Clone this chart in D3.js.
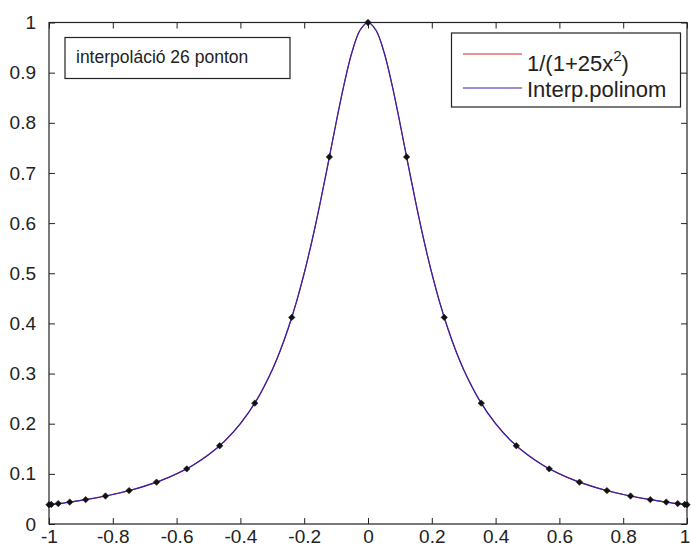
<!DOCTYPE html>
<html>
<head>
<meta charset="utf-8">
<script src="https://cdnjs.cloudflare.com/ajax/libs/d3/7.8.5/d3.min.js"></script>
<style>
  body { margin: 0; background: #fff; }
  svg { display: block; }
</style>
</head>
<body>
<div id="chart"></div>
<script>
// values
let curveX = [-1, -0.95, -0.9, -0.85, -0.8, -0.75, -0.7, -0.65, -0.6, -0.55, -0.5, -0.45, -0.4, -0.35,
  -0.3, -0.275, -0.25, -0.225, -0.2, -0.175, -0.15, -0.125, -0.1, -0.075, -0.05, -0.025, 0,
  0.025, 0.05, 0.075, 0.1, 0.125, 0.15, 0.175, 0.2, 0.225, 0.25, 0.275, 0.3,
  0.35, 0.4, 0.45, 0.5, 0.55, 0.6, 0.65, 0.7, 0.75, 0.8, 0.85, 0.9, 0.95, 1];
let exactY = [0.0385, 0.0424, 0.0471, 0.0525, 0.0588, 0.0664, 0.0755, 0.0865, 0.1, 0.1168, 0.1379, 0.1649, 0.2, 0.2462,
  0.3077, 0.3459, 0.3902, 0.4414, 0.5, 0.5664, 0.64, 0.7191, 0.8, 0.8767, 0.9412, 0.9846, 1,
  0.9846, 0.9412, 0.8767, 0.8, 0.7191, 0.64, 0.5664, 0.5, 0.4414, 0.3902, 0.3459, 0.3077,
  0.2462, 0.2, 0.1649, 0.1379, 0.1168, 0.1, 0.0865, 0.0755, 0.0664, 0.0588, 0.0525, 0.0471, 0.0424, 0.0385];
let interpY = [0.0385, 0.0423, 0.0472, 0.0524, 0.0589, 0.0663, 0.0756, 0.0864, 0.1001, 0.1167, 0.138, 0.1648, 0.2001, 0.2461,
  0.3078, 0.3458, 0.3903, 0.4413, 0.5001, 0.5663, 0.6401, 0.719, 0.8001, 0.8766, 0.9413, 0.9845, 1,
  0.9845, 0.9413, 0.8766, 0.8001, 0.719, 0.6401, 0.5663, 0.5001, 0.4413, 0.3903, 0.3458, 0.3078,
  0.2461, 0.2001, 0.1648, 0.138, 0.1167, 0.1001, 0.0864, 0.0756, 0.0663, 0.0589, 0.0524, 0.0472, 0.0423, 0.0385];
let nodeX = [-1, -0.993, -0.971, -0.935, -0.885, -0.823, -0.749, -0.663, -0.568, -0.465, -0.355, -0.239, -0.121, 0,
  0.121, 0.239, 0.355, 0.465, 0.568, 0.663, 0.749, 0.823, 0.885, 0.935, 0.971, 0.993, 1];
let nodeY = [0.0385, 0.039, 0.0407, 0.0437, 0.0486, 0.0558, 0.0666, 0.0834, 0.110, 0.156, 0.241, 0.412, 0.732, 1,
  0.732, 0.412, 0.241, 0.156, 0.110, 0.0834, 0.0666, 0.0558, 0.0486, 0.0437, 0.0407, 0.039, 0.0385];
let xTicks = [-1, -0.8, -0.6, -0.4, -0.2, 0, 0.2, 0.4, 0.6, 0.8, 1];
let yTicks = [0, 0.1, 0.2, 0.3, 0.4, 0.5, 0.6, 0.7, 0.8, 0.9, 1];
let legendNames = ["1/(1+25x", "Interp.polinom"];
let noteText = "interpoláció 26 ponton";

const width = 691, height = 548;
const m = {left: 49, right: 4, top: 22.5, bottom: 24};
const font = "'Liberation Sans', Arial, sans-serif";
const red = "#d42a2a", blue = "#2a24b4";

let svg = d3.select("#chart").append("svg")
  .attr("width", width).attr("height", height)
  .style("font-family", font);

let x = d3.scaleLinear().domain([-1, 1]).range([m.left, width - m.right]);
let y = d3.scaleLinear().domain([0, 1]).range([height - m.bottom, m.top]);

// ticks all round, pointing in; plain hyphen for minus like the original
let fmt = d => String(+d.toFixed(1));
svg.append("g").attr("transform", `translate(0,${y(0)})`)
  .call(d3.axisBottom(x).tickValues(xTicks).tickSize(-6).tickPadding(6).tickFormat(fmt))
  .call(g => g.select(".domain").remove())
  .call(g => g.selectAll("text").attr("font-size", 19).attr("font-family", font).attr("fill", "#222"))
  .call(g => g.selectAll(".tick").filter(d => d === 1).select("text").attr("dx", -2.5)); // keep the last "1" inside
svg.append("g").attr("transform", `translate(0,${y(1)})`)
  .call(d3.axisTop(x).tickValues(xTicks).tickSize(-6).tickFormat(""))
  .call(g => g.select(".domain").remove());
svg.append("g").attr("transform", `translate(${x(-1)},0)`)
  .call(d3.axisLeft(y).tickValues(yTicks).tickSize(-6).tickPadding(13).tickFormat(fmt))
  .call(g => g.select(".domain").remove())
  .call(g => g.selectAll("text").attr("font-size", 19).attr("font-family", font).attr("fill", "#222"));
svg.append("g").attr("transform", `translate(${x(1)},0)`)
  .call(d3.axisRight(y).tickValues(yTicks).tickSize(-6).tickFormat(""))
  .call(g => g.select(".domain").remove());
svg.selectAll(".tick line").attr("stroke", "#222");

svg.append("rect")
  .attr("x", x(-1)).attr("y", y(1))
  .attr("width", x(1) - x(-1)).attr("height", y(0) - y(1))
  .attr("fill", "none").attr("stroke", "#222").attr("stroke-width", 1.2);

let line = ys => d3.line().x((d, i) => x(curveX[i])).y(d => y(d)).curve(d3.curveCatmullRom)(ys);
svg.append("path").attr("d", line(exactY)).attr("fill", "none").attr("stroke", red).attr("stroke-width", 1.2);
svg.append("path").attr("d", line(interpY)).attr("fill", "none").attr("stroke", blue).attr("stroke-width", 1.2);

// node markers
svg.append("g").selectAll("path").data(nodeX).join("path")
  .attr("transform", (d, i) => `translate(${x(d)},${y(nodeY[i])})`)
  .attr("d", d3.symbol(d3.symbolDiamond2, 26)())
  .attr("fill", "#111").attr("stroke", "#111").attr("stroke-width", 0.6);

// text box
let note = svg.append("g");
note.append("rect").attr("x", 65).attr("y", 37.5).attr("width", 225).attr("height", 41)
  .attr("fill", "#fff").attr("stroke", "#222").attr("stroke-width", 1.2);
note.append("text").attr("x", 76).attr("y", 62.5)
  .attr("font-size", 17.5).attr("fill", "#222").text(noteText);

// legend
let leg = svg.append("g");
leg.append("rect").attr("x", 451.5).attr("y", 33).attr("width", 229).attr("height", 74)
  .attr("fill", "#fff").attr("stroke", "#222").attr("stroke-width", 1.2);
[red, blue].forEach((c, i) => {
  let yy = 54 + i * 34;
  leg.append("line").attr("x1", 463).attr("x2", 522).attr("y1", yy).attr("y2", yy)
    .attr("stroke", c).attr("stroke-width", 1.2);
});
let t1 = leg.append("text").attr("x", 527).attr("y", 71).attr("font-size", 22).attr("fill", "#222");
t1.append("tspan").text(legendNames[0]);
t1.append("tspan").attr("dy", -10).attr("font-size", 15).text("2");
t1.append("tspan").attr("dy", 10).text(")");
leg.append("text").attr("x", 527).attr("y", 97).attr("font-size", 22).attr("fill", "#222").text(legendNames[1]);
</script>
</body>
</html>
